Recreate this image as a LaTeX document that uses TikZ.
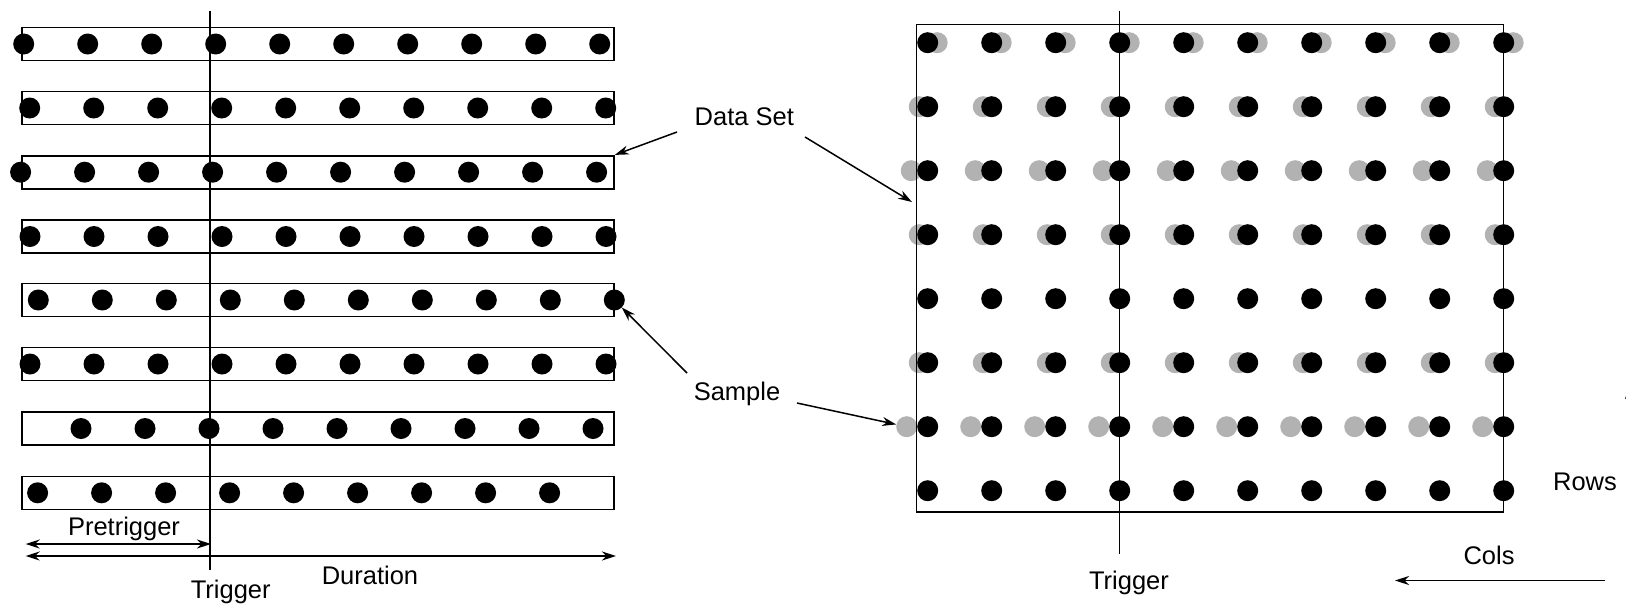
\documentclass[tikz,border=0pt]{standalone}
\usepackage{fontspec}
\setmainfont{Liberation Sans}
\usetikzlibrary{arrows.meta}
\definecolor{shade}{RGB}{178,178,178}
\begin{document}
\begin{tikzpicture}[x=1pt,y=-1pt,
  dot/.style={circle,fill=black,inner sep=0pt,minimum size=21pt},
  ghost/.style={circle,fill=shade,inner sep=0pt,minimum size=21pt},
  frame/.style={draw,line width=1.6pt,inner sep=0pt},
  trig/.style={line width=1.8pt},
  lbl/.style={anchor=base,inner sep=0pt,font=\fontsize{25.5}{30}\selectfont},
  tip/.tip={Stealth[length=14pt,width=9pt,inset=4.5pt]},
  arr/.style={line width=1.5pt,-tip},
  darr/.style={line width=1.5pt,tip-tip}]
\useasboundingbox (0,0) rectangle (1626,603);

% ---- left: one data set per row ----
\foreach \r/\y in {1/44,2/108,3/172.2,4/236.5,5/300,6/364,7/428.5,8/492.8}
  \node[frame,minimum width=592.3pt,minimum height=33pt] (box\r) at (317.85,\y) {};

\coordinate (tlTop) at (209.7,10.7);
\coordinate (tlBot) at (209.7,570);
\draw[trig] (tlTop) -- (tlBot);

\foreach \r/\y/\x/\n in {1/44/23.7/10,2/108/29.7/10,3/172.2/20.6/10,4/236.5/30/10,
                         5/300/38.3/10,6/364/30/10,7/428.5/81/9,8/492.8/37.6/9}
  \foreach \c in {1,...,\n}
    \node[dot] (l\r-\c) at ({\x+64*(\c-1)},\y) {};

% pretrigger and duration spans
\coordinate (pt1) at (25.7,544);
\coordinate (pt2) at (211,544);
\coordinate (du1) at (25.7,556);
\coordinate (du2) at (616,556);
\draw[darr] (pt1) -- (pt2);
\draw[darr] (du1) -- (du2);
\node[lbl] (pretrig) at (124,535) {Pretrigger};
\node[lbl] (duration) at (370,584) {Duration};
\node[lbl] (trigL) at (230.7,598.5) {Trigger};

% ---- right: aligned rows and columns ----
\foreach \r/\y/\g in {1/42.7/9.5,2/106.7/-8.5,3/170.7/-16.5,4/234.7/-8.5,6/362.7/-8.5,7/426.7/-21}
  \foreach \c in {1,...,10}
    \node[ghost] (g\r-\c) at ({927.7+64*(\c-1)+\g},\y) {};

\node[frame,minimum width=587pt,minimum height=487.2pt] (grid) at (1210,268.1) {};

\coordinate (trTop) at (1119.5,10.7);
\coordinate (trBot) at (1119.5,554);
\draw[trig] (trTop) -- (trBot);

\foreach \r/\y in {1/42.7,2/106.7,3/170.7,4/234.7,5/298.7,6/362.7,7/426.7,8/490.7}
  \foreach \c in {1,...,10}
    \node[dot] (d\r-\c) at ({927.7+64*(\c-1)},\y) {};

\node[lbl] (trigR) at (1129,589) {Trigger};
\node[lbl] (rows) at (1585,490) {Rows};
\node[lbl] (cols) at (1489,564) {Cols};

\coordinate (co1) at (1605,580.5);
\coordinate (co2) at (1395,580.5);
\draw[arr] (co1) -- (co2);
\coordinate (ro1) at (1629.5,600);
\coordinate (ro2) at (1629.5,385);
\draw[arr] (ro1) -- (ro2);

% ---- callouts ----
\node[lbl] (dataset) at (744.3,125.7) {Data Set};
\coordinate (ds1) at (677,132);
\coordinate (ds2) at (805,137);
\coordinate (dsR) at (912,202);
\draw[arr] (ds1) -- (box3.north east);
\draw[arr] (ds2) -- (dsR);

\node[lbl] (sample) at (737,400.7) {Sample};
\coordinate (sp1) at (687,373);
\coordinate (sp2) at (797,403);
\draw[arr] (sp1) -- (l5-10);
\draw[arr] (sp2) -- (g7-1);
\end{tikzpicture}
\end{document}
